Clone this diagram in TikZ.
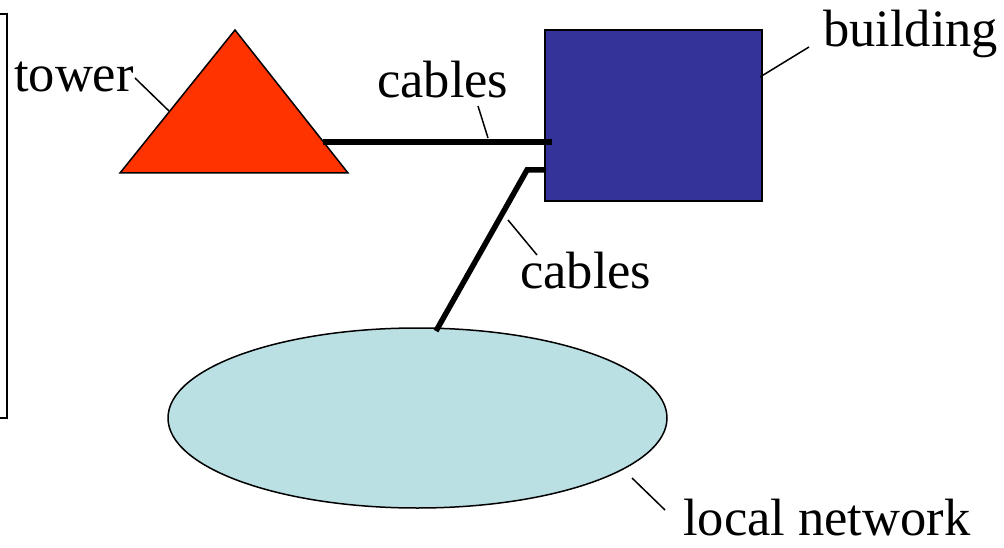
\documentclass[tikz,border=0pt]{standalone}
\usepackage{fontspec}
\setmainfont{Liberation Serif}
\usetikzlibrary{shapes.geometric}
\definecolor{towerred}{RGB}{255,51,0}
\definecolor{buildblue}{RGB}{51,51,153}
\definecolor{netcyan}{RGB}{187,224,227}
\tikzset{
  lbl/.style={anchor=base west, inner sep=0pt, font=\fontsize{52.5}{60}\selectfont},
  leader/.style={draw=black, line width=1.5pt},
  cable/.style={draw=black, line width=5.5pt},
}
\begin{document}
\begin{tikzpicture}[x=1pt,y=-1pt]
\useasboundingbox (0,0) rectangle (1004,548);
% bracket
\draw[line width=2pt] (0,14) -- (7,14) -- (7,418) -- (0,418);
% tower
\coordinate (tA) at (235,30);
\coordinate (tL) at (120,173);
\coordinate (tR) at (348,173);
\draw[fill=towerred, line width=1.5pt] (tA) -- (tL) -- (tR) -- cycle;
% building
\node (building) [draw=black, line width=1.2pt, fill=buildblue, minimum width=217pt, minimum height=171pt, inner sep=0pt] at (653.5,115.5) {};
% local network
\node (net) [ellipse, draw=black, line width=1.5pt, fill=netcyan, minimum width=499pt, minimum height=180pt, inner sep=0pt] at (417.5,418) {};
% cables
\coordinate (c1a) at (323,142);
\coordinate (c1b) at (552,142);
\draw[cable] (c1a) -- (c1b);
\coordinate (c2a) at (546,170);
\coordinate (c2b) at (527,170);
\coordinate (c2c) at (436,331);
\draw[cable, line join=miter] (c2a) -- (c2b) -- (c2c);
% labels
\node[lbl] (ltower) at (14,92) {tower};
\node[lbl] (lbuilding) at (823,47) {building};
\node[lbl] (lcab1) at (377,98) {cables};
\node[lbl] (lcab2) at (520,288) {cables};
\node[lbl] (lnet) at (683,535) {local network};
% leaders
\coordinate (p1a) at (135,78); \coordinate (p1b) at (169,111);
\draw[leader] (p1a) -- (p1b);
\coordinate (p2a) at (760,77); \coordinate (p2b) at (809,47);
\draw[leader] (p2a) -- (p2b);
\coordinate (p3a) at (478,106); \coordinate (p3b) at (488,138);
\draw[leader] (p3a) -- (p3b);
\coordinate (p4a) at (508,220); \coordinate (p4b) at (537,255);
\draw[leader] (p4a) -- (p4b);
\coordinate (p5a) at (632,478); \coordinate (p5b) at (665,510);
\draw[leader] (p5a) -- (p5b);
\end{tikzpicture}
\end{document}
